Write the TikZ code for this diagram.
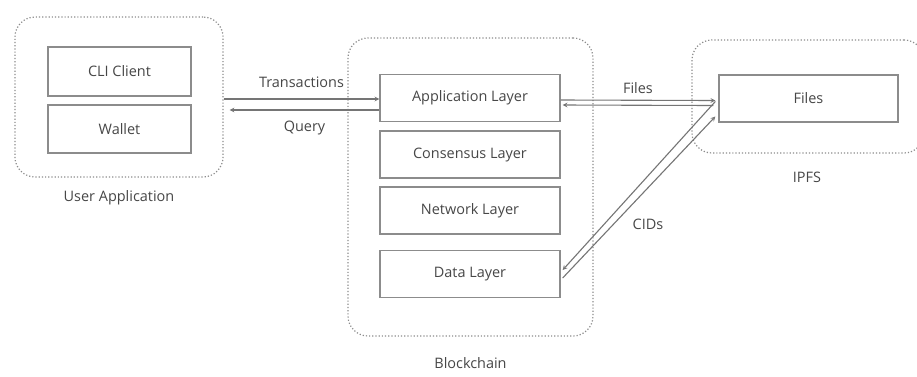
\documentclass[tikz,border=0pt]{standalone}
\usepackage{fontspec}
\setmainfont{Open Sans}
\usepackage{tikz}
\usetikzlibrary{arrows,calc}
\tikzset{>=stealth}
\colorlet{background}{white}
\colorlet{penColor}{black!45}
\colorlet{inkColor}{black!72}
\tikzset{
  group/.style={draw=penColor,dotted,line width=1.2bp,rounded corners=20bp,inner sep=0pt},
  layer/.style={draw=penColor,line width=1.3bp,minimum width=180bp,minimum height=47bp,
    text=inkColor,font=\fontsize{14.5}{16}\selectfont},
  caption/.style={text=inkColor,font=\fontsize{14.5}{16}\selectfont},
  link/.style={->,draw=penColor!120,line width=1.1bp}
}

\begin{document}
\begin{tikzpicture}[x=1bp,y=-1bp]
            \useasboundingbox[fill=background] (0,0) rectangle (917,376);
            % groups
            \node[group,minimum width=208bp,minimum height=160bp] (user) at (119,97) {};
            \node[group,minimum width=245bp,minimum height=298bp] (chain) at (470.5,187) {};
            \node[group,minimum width=232bp,minimum height=113bp] (ipfs) at (808,96.5) {};
            \node[caption] (userlbl) at (119,198) {User Application};
            \node[caption] (chainlbl) at (470.5,363) {Blockchain};
            \node[caption] (ipfslbl) at (807,177) {IPFS};
            % boxes
            \node[layer,minimum width=143bp,minimum height=49bp] (cli) at (119.5,71.5) {CLI Client};
            \node[layer,minimum width=143bp,minimum height=48bp] (wallet) at (119.5,129) {Wallet};
            \node[layer] (app) at (470,98) {Application Layer};
            \node[layer] (cons) at (470,154.5) {Consensus Layer};
            \node[layer] (net) at (470,210.5) {Network Layer};
            \node[layer] (data) at (470,274) {Data Layer};
            \node[layer,minimum width=179bp] (files) at (808.5,98.5) {Files};
            % links
            \draw[link] ($(user.east)+(0,2)$) -- node[caption,above=7bp] {Transactions} ($(app.west)+(0,1)$);
            \draw[link] ($(app.west)+(0,12)$) -- node[caption,below=7bp] {Query} ($(user.east)+(6,13)$);
            \draw[link] ($(app.east)+(0,2)$) -- node[caption,above=3bp] {Files} ($(files.west)+(-3,2)$);
            \draw[link] ($(files.west)+(-5,7)$) -- ($(app.east)+(2,7)$);
            \draw[link] ($(files.west)+(-3,3)$) -- ($(data.east)+(2,-4)$);
            \draw[link] ($(data.east)+(2,4)$) -- ($(files.west)+(-3,18)$);
            \node[caption] (cids) at (648,224) {CIDs};
      \end{tikzpicture}
\end{document}
